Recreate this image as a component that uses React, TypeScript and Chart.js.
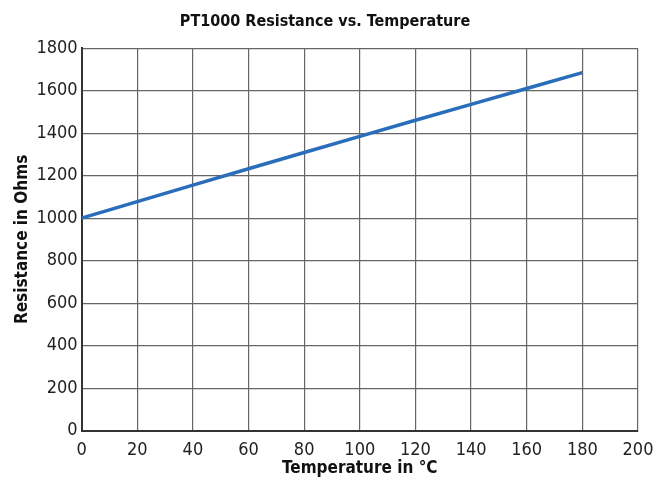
import React, { useEffect, useRef } from "react";
import { Chart, registerables } from "chart.js";
Chart.register(...registerables);

const temperatures = [0, 20, 40, 60, 80, 100, 120, 140, 160, 180];
const resistances = [1000, 1077.9, 1155.4, 1232.4, 1309.0, 1385.1, 1460.7, 1535.8, 1610.5, 1684.8];
const titleText = "PT1000 Resistance vs. Temperature";
const xTitle = "Temperature in °C";
const yTitle = "Resistance in Ohms";

const FONT = "'Liberation Sans Narrow', 'DejaVu Sans Condensed', 'Arial Narrow', sans-serif";

export default function App() {
  const ref = useRef<HTMLCanvasElement>(null);
  useEffect(() => {
    document.body.style.margin = "0";
    const ctx = ref.current!;
    const chart = new Chart(ctx, {
      type: "scatter",
      data: {
        datasets: [
          {
            data: temperatures.map((t, i) => ({ x: t, y: resistances[i] })),
            showLine: true,
            borderColor: "#2a6ebb",
            borderWidth: 3.5,
            pointRadius: 0,
            tension: 0,
          },
        ],
      },
      options: {
        animation: false,
        responsive: false,
        layout: { padding: { left: 12, right: 28, top: 0, bottom: 5 } },
        plugins: {
          legend: { display: false },
          tooltip: { enabled: false },
          title: {
            display: true,
            text: titleText,
            color: "#111",
            font: { family: FONT, size: 16, weight: "bold" },
            padding: { top: 12, bottom: 17 },
          },
        },
        scales: {
          x: {
            type: "linear",
            min: 0,
            max: 200,
            ticks: { stepSize: 20, color: "#222", font: { family: FONT, size: 18, lineHeight: 1 }, padding: 11, maxRotation: 0, callback: (v: any) => String(v) },
            grid: { color: "#666", lineWidth: 1.2, drawTicks: false },
            border: { color: "#333", width: 2 },
            title: { display: true, text: xTitle, color: "#111", font: { family: FONT, size: 17, weight: "bold" }, padding: { top: -12, bottom: 0 } },
          },
          y: {
            min: 0,
            max: 1800,
            ticks: { stepSize: 200, color: "#222", font: { family: FONT, size: 18 }, padding: 4, callback: (v: any) => String(v) },
            grid: { color: "#666", lineWidth: 1.2, drawTicks: false },
            border: { color: "#333", width: 2 },
            title: { display: true, text: yTitle, color: "#111", font: { family: FONT, size: 17, weight: "bold" }, padding: { top: 0, bottom: 0 } },
          },
        },
      },
    });
    return () => chart.destroy();
  }, []);
  return <canvas ref={ref} width={666} height={484} style={{ display: "block" }} />;
}
